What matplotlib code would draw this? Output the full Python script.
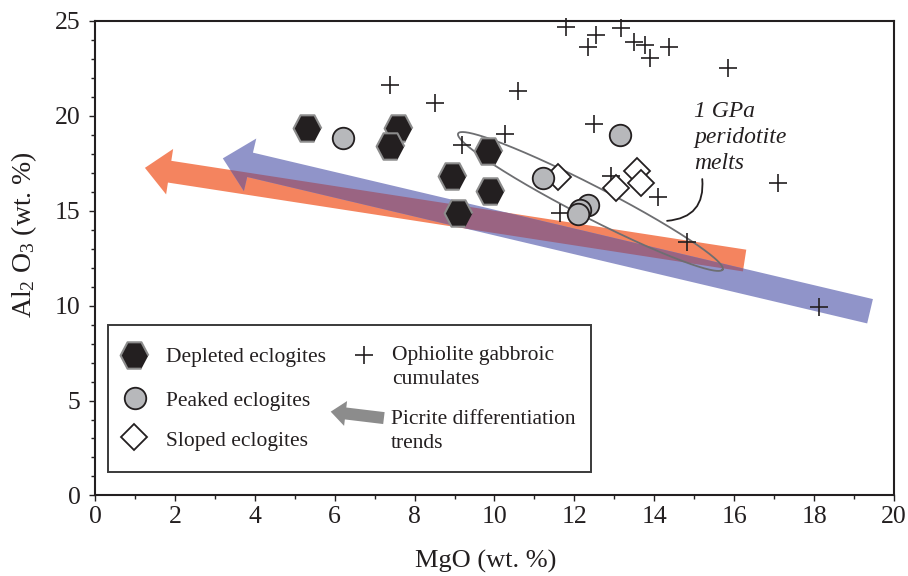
import numpy as np
import matplotlib.pyplot as plt
from matplotlib.patches import Polygon, Rectangle

plt.rcParams['font.family'] = ['Liberation Serif', 'DejaVu Serif']
plt.rcParams['mathtext.fontset'] = 'custom'
plt.rcParams['mathtext.rm'] = 'Liberation Serif'
plt.rcParams['mathtext.it'] = 'Liberation Serif:italic'

INK = '#231f20'

# eclogite groups, MgO vs Al2O3 (wt. %)
depleted_mgo = [5.31, 7.58, 7.38, 8.94, 9.83, 9.88, 9.08]
depleted_al2o3 = [19.36, 19.33, 18.41, 16.80, 18.13, 16.05, 14.85]

peaked_mgo = [6.21, 11.22, 13.13, 12.34, 12.14, 12.09]
peaked_al2o3 = [18.80, 16.70, 19.00, 15.29, 15.03, 14.82]

sloped_mgo = [11.60, 13.57, 13.67, 13.05]
sloped_al2o3 = [16.78, 17.09, 16.43, 16.17]

# ophiolite gabbroic cumulates
cumulate_mgo = [11.78, 12.55, 12.34, 13.17, 13.49, 13.77, 13.88, 14.38, 15.84,
                7.38, 8.50, 10.60, 10.27, 9.19, 12.49, 12.91, 14.09, 11.64,
                14.81, 18.12, 17.10]
cumulate_al2o3 = [24.67, 24.24, 23.62, 24.59, 23.88, 23.71, 23.04, 23.59, 22.52,
                  21.60, 20.64, 21.30, 19.03, 18.45, 19.54, 16.82, 15.69, 14.85,
                  13.36, 9.90, 16.43]

# picrite differentiation trends (tail, tip)
orange_trend = [(16.26, 12.37), (1.25, 17.25)]
blue_trend = [(19.40, 9.70), (3.20, 17.75)]

# 1 GPa peridotite melt field: ends of the long axis
melt_field_ends = [(9.09, 19.06), (15.71, 11.90)]

fig = plt.figure(figsize=(9.08, 5.76), dpi=100)
ax = fig.add_axes([0.1046, 0.1398, 0.8800, 0.8243])
ax.set_xlim(0, 20)
ax.set_ylim(0, 25)


def fat_arrow(tail, tip, shaft, head_w, head_len, trans):
    # block arrow built in pixels so its shape ignores the axis aspect
    p0, p1 = trans.transform([tail, tip])
    u = (p1 - p0) / np.hypot(*(p1 - p0))
    n = np.array([-u[1], u[0]])
    base = p1 - u * head_len
    pts = [p0 + n * shaft / 2, base + n * shaft / 2, base + n * head_w / 2, p1,
           base - n * head_w / 2, base - n * shaft / 2, p0 - n * shaft / 2]
    return trans.inverted().transform(pts)


orange_pts = fat_arrow(*orange_trend, 22, 46, 25, ax.transData)
blue_pts = fat_arrow(*blue_trend, 25, 54, 28, ax.transData)
orange = Polygon(orange_pts, closed=True, fc='#f4845f', ec='none', zorder=1)
blue = Polygon(blue_pts, closed=True, fc='#9094c9', ec='none', zorder=1.1)
ax.add_patch(orange)
ax.add_patch(blue)
overlap = Polygon(blue_pts, closed=True, fc='#9a6482', ec='none', zorder=1.2)
ax.add_patch(overlap)
overlap.set_clip_path(orange)

# melt field outline
p0, p1 = ax.transData.transform(melt_field_ends)
c = (p0 + p1) / 2
a = (p1 - p0) / 2
b = np.array([-a[1], a[0]]) / np.hypot(*a) * 16
t = np.linspace(0, 2 * np.pi, 300)
ring = c + np.outer(np.cos(t), a) + np.outer(np.sin(t), b)
ring = ax.transData.inverted().transform(ring)
ax.plot(ring[:, 0], ring[:, 1], color='#6d6e71', lw=1.3, zorder=2)

hexagon = [(1, 0), (0.5, 0.95), (-0.5, 0.95), (-1, 0), (-0.5, -0.95), (0.5, -0.95)]

ax.plot(cumulate_mgo, cumulate_al2o3, ls='none', marker='+', ms=13, mew=1.2,
        color=INK, zorder=3, clip_on=False)
ax.plot(depleted_mgo, depleted_al2o3, ls='none', marker=hexagon, ms=20,
        mfc=INK, mec='#8c8c8c', mew=1.5, zorder=4)
ax.plot(sloped_mgo, sloped_al2o3, ls='none', marker='D', ms=13,
        mfc='white', mec=INK, mew=1.3, zorder=4)
ax.plot(peaked_mgo, peaked_al2o3, ls='none', marker='o', ms=15.5,
        mfc='#b7b8bb', mec=INK, mew=1.3, zorder=5)

ax.text(15.0, 18.85, '1 GPa\nperidotite\nmelts', style='italic', fontsize=17,
        color=INK, ha='left', va='center', linespacing=1.3)
ax.annotate('', xy=(14.32, 14.46), xytext=(15.2, 16.66),
            arrowprops=dict(arrowstyle='-', connectionstyle='arc3,rad=-0.5',
                            color=INK, lw=1.3, shrinkA=0, shrinkB=0))

# legend box
ax.add_patch(Rectangle((0.0166, 0.050), 0.604, 0.309, transform=ax.transAxes,
                       fill=False, ec='#3a3a3a', lw=1.4, zorder=6))
tA = ax.transAxes
ax.plot([0.049], [0.296], transform=tA, marker=hexagon, ms=20, mfc=INK,
        mec='#8c8c8c', mew=1.5, ls='none', zorder=6)
ax.plot([0.0499], [0.2047], transform=tA, marker='o', ms=15.5, mfc='#b7b8bb',
        mec=INK, mew=1.3, ls='none', zorder=6)
ax.plot([0.049], [0.1238], transform=tA, marker='D', ms=13, mfc='white',
        mec=INK, mew=1.3, ls='none', zorder=6)
ax.plot([0.3367], [0.296], transform=tA, marker='+', ms=13, mew=1.2,
        color=INK, ls='none', zorder=6)
legend_arrow = fat_arrow((0.3616, 0.163), (0.295, 0.1765), 12, 25, 15, tA)
ax.add_patch(Polygon(legend_arrow, closed=True, fc='#8c8c8c', ec='none',
                     transform=tA, zorder=6))

lkw = dict(transform=tA, fontsize=15.5, color=INK, va='center', ha='left',
           linespacing=1.3)
ax.text(0.0885, 0.29, 'Depleted eclogites', **lkw)
ax.text(0.0885, 0.198, 'Peaked eclogites', **lkw)
ax.text(0.0885, 0.113, 'Sloped eclogites', **lkw)
ax.text(0.372, 0.2696, 'Ophiolite gabbroic\ncumulates', **lkw)
ax.text(0.370, 0.1348, 'Picrite differentiation\ntrends', **lkw)

# axes styling
ax.set_xticks(range(0, 21, 2))
ax.set_xticks(range(1, 20, 2), minor=True)
ax.set_yticks(range(0, 26, 5))
ax.set_yticks(range(0, 26), minor=True)
ax.tick_params(which='major', direction='out', length=4.5, width=1,
               labelsize=18.5, colors=INK)
ax.tick_params(which='minor', direction='out', length=3, width=1, colors=INK)
ax.tick_params(axis='x', pad=3)
ax.tick_params(axis='y', pad=6)
for s in ax.spines.values():
    s.set_linewidth(1.5)
    s.set_color(INK)

ax.set_xlabel('MgO (wt. %)', fontsize=19, color=INK)
ax.set_ylabel(r'Al$_2$ O$_3$ (wt. %)', fontsize=20, color=INK)
ax.xaxis.set_label_coords(0.489, -0.115)
ax.yaxis.set_label_coords(-0.070, 0.55)

fig.savefig('out.png', dpi=100)
